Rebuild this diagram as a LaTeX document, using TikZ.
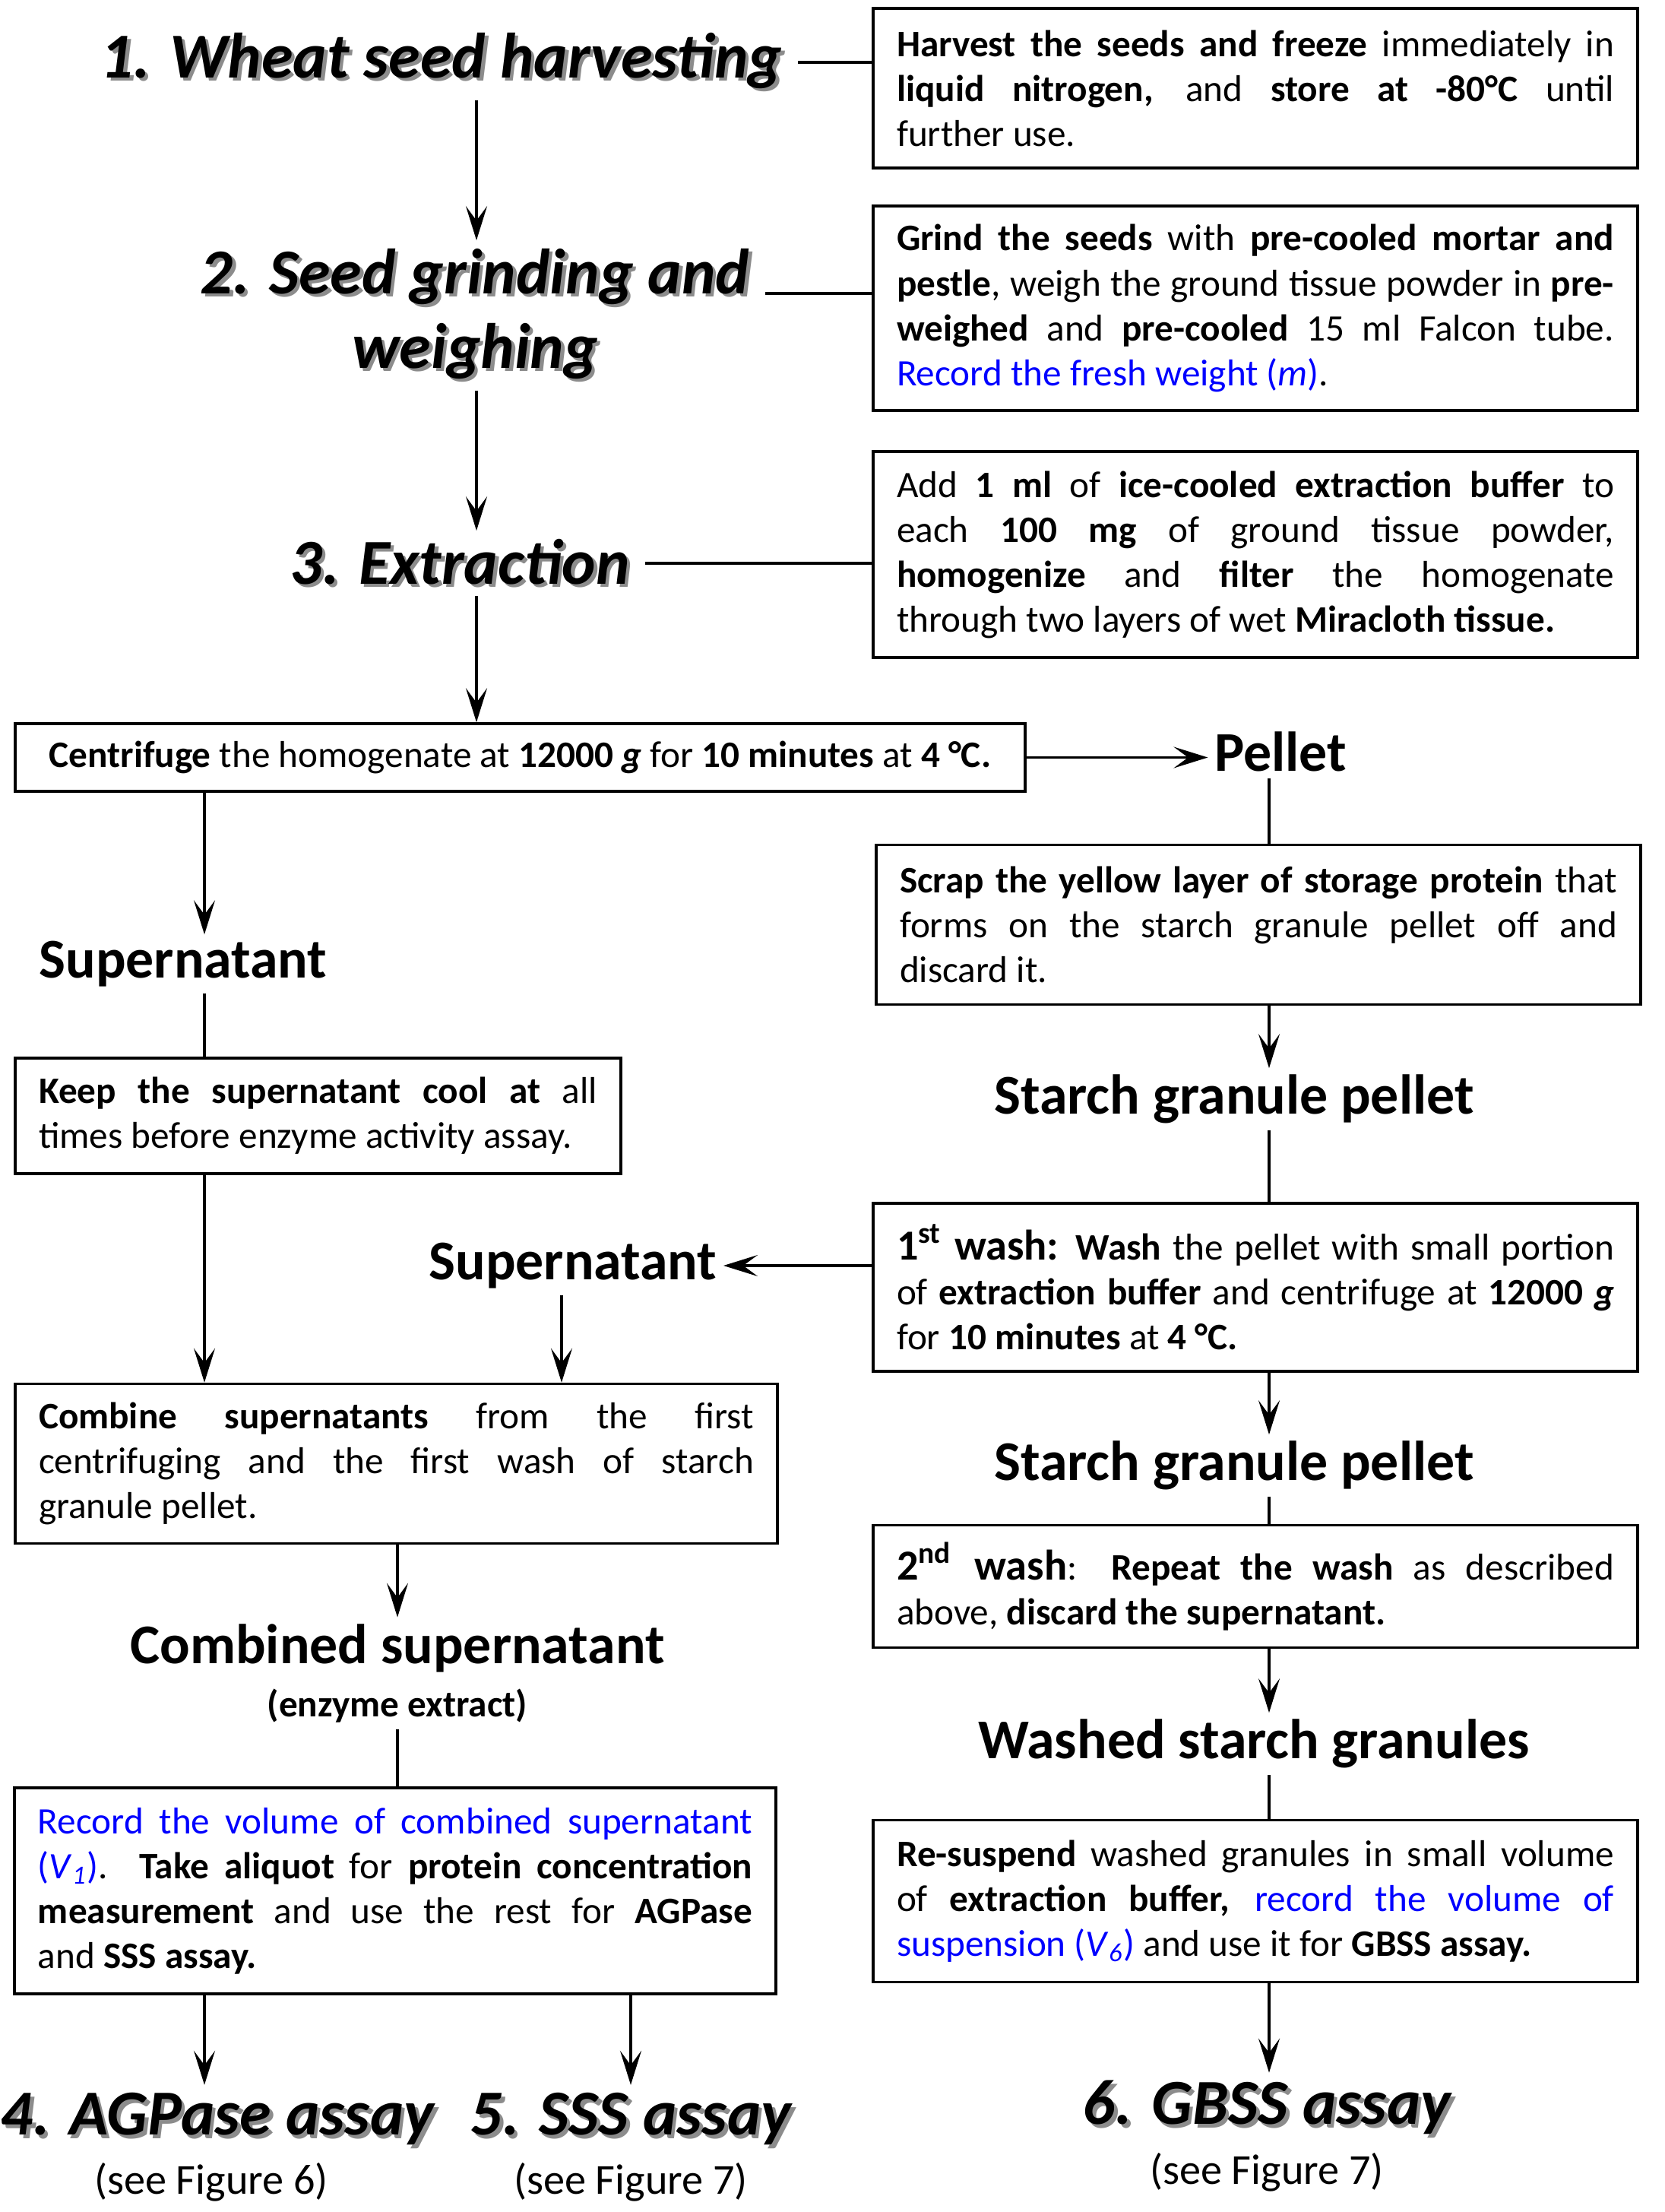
\documentclass[tikz,border=0pt]{standalone}
\usepackage{fontspec}
\setmainfont{Carlito}
\usetikzlibrary{arrows.meta,calc,positioning}

\definecolor{recblue}{RGB}{0,0,255}
\newcommand{\shd}[1]{\makebox[0pt][l]{\hspace{0.45mm}\raisebox{-0.45mm}{\textcolor{black!45}{#1}}}#1}
\newcommand{\rec}[1]{\textcolor{recblue}{#1}}
\newcommand{\nobreaks}{\hyphenpenalty=10000 \exhyphenpenalty=10000 \tolerance=9999 }

\begin{document}
\begin{tikzpicture}[
	stepbox/.style={draw, line width=1pt, inner xsep=3.1mm, inner ysep=1mm, align=justify,
		font=\fontsize{14}{16.8}\selectfont, execute at begin node=\nobreaks},
	steptitle/.style={inner xsep=2mm, inner ysep=1mm, align=center, font=\fontsize{24}{28}\selectfont\bfseries\itshape},
	fraction/.style={inner sep=0.8mm, font=\fontsize{21}{25}\selectfont\bfseries},
	seefig/.style={inner sep=0.8mm, font=\fontsize{16}{19}\selectfont},
	link/.style={line width=0.9pt},
	arr/.style={link, -{Stealth[length=4.5mm, width=2.8mm, inset=1.9mm]}},
]
	\useasboundingbox (0mm,0mm) rectangle (219mm,-291mm);
	%\draw[color=gray,step=1mm, help lines,opacity=0.3] (0mm,-291mm) grid (219mm,0mm); %help grid
	\coordinate (mcol) at (62.7mm,0mm);
	\coordinate (lcol) at (26.9mm,0mm);
	\coordinate (rcol) at (167mm,0mm);

	% steps 1-3
	\node[steptitle] (wheat) at (58.1mm,-8.2mm) {\shd{1. Wheat seed harvesting}};
	\node[steptitle] (grind) at (62.5mm,-41.5mm) {\shd{2. Seed grinding and}\\\shd{weighing}};
	\node[steptitle] (extract) at (60.5mm,-74.1mm) {\shd{3. Extraction}};
	\node[stepbox, text width=94.4mm, minimum height=21mm] (harvest) at (165.2mm,-11.6mm)
		{\textbf{Harvest the seeds and freeze} immediately in\linebreak \textbf{liquid nitrogen,} and \textbf{store at -80°C} until\linebreak further use.};
	\node[stepbox, text width=94.4mm, minimum height=26.9mm] (grindbox) at (165.2mm,-40.55mm)
		{\textbf{Grind the seeds} with \textbf{pre-cooled mortar and}\linebreak \textbf{pestle}, weigh the ground tissue powder in \textbf{pre-}\linebreak \textbf{weighed} and \textbf{pre-cooled} 15 ml Falcon tube.\linebreak \rec{Record the fresh weight (\textit{m})}.};
	\node[stepbox, text width=94.4mm, minimum height=27.1mm] (extractbox) at (165.2mm,-72.95mm)
		{Add \textbf{1 ml} of \textbf{ice-cooled extraction buffer} to\linebreak each \textbf{100 mg} of ground tissue powder,\linebreak \textbf{homogenize} and \textbf{filter} the homogenate\linebreak through two layers of wet \textbf{Miracloth tissue.}};
	\node[stepbox, align=center, minimum width=132.9mm, minimum height=8.9mm] (centrifuge) at (68.45mm,-99.65mm)
		{\textbf{Centrifuge} the homogenate at \textbf{12000 \textit{g}} for \textbf{10 minutes} at \textbf{4 °C.}};

	% pellet side
	\node[fraction] (pellet) at (168.5mm,-98.9mm) {Pellet};
	\node[stepbox, text width=94.4mm, minimum height=21mm] (scrap) at (165.6mm,-121.65mm)
		{\textbf{Scrap the yellow layer of storage protein} that\linebreak forms on the starch granule pellet off and\linebreak discard it.};
	\node[fraction] (granule1) at (162.4mm,-144.6mm) {Starch granule pellet};
	\node[stepbox, text width=94.4mm, minimum height=22.1mm] (wash1) at (165.2mm,-169.35mm)
		{{\fontsize{16}{16.8}\selectfont\textbf{1\textsuperscript{st} wash:}} \textbf{Wash} the pellet with small portion\linebreak of \textbf{extraction buffer} and centrifuge at \textbf{12000 \textit{g}}\linebreak for \textbf{10 minutes} at \textbf{4 °C.}};
	\node[fraction] (granule2) at (162.4mm,-192.8mm) {Starch granule pellet};
	\node[stepbox, text width=94.4mm, minimum height=16.1mm] (wash2) at (165.2mm,-208.7mm)
		{{\fontsize{16}{16.8}\selectfont\textbf{2\textsuperscript{nd} wash}}: \textbf{Repeat the wash} as described\linebreak above, \textbf{discard the supernatant.}};
	\node[fraction] (washed) at (165mm,-229.4mm) {Washed starch granules};
	\node[stepbox, text width=94.4mm, minimum height=21.3mm] (resuspend) at (165.2mm,-250.1mm)
		{\textbf{Re-suspend} washed granules in small volume\linebreak of \textbf{extraction buffer,} \rec{record the volume of}\linebreak \rec{suspension (\textit{V}\textsubscript{\textit{6}})} and use it for \textbf{GBSS assay.}};
	\node[steptitle] (gbss) at (166.7mm,-277.5mm) {\shd{6. GBSS assay}};
	\node[seefig] (gbssfig) at (166.7mm,-285.8mm) {(see Figure 7)};

	% supernatant side
	\node[fraction] (super1) at (24.1mm,-126.8mm) {Supernatant};
	\node[stepbox, text width=73.5mm, minimum height=15.2mm] (keep) at (41.85mm,-146.8mm)
		{\textbf{Keep the supernatant cool at} all\linebreak times before enzyme activity assay.};
	\node[fraction] (super2) at (75.4mm,-166.5mm) {Supernatant};
	\node[stepbox, text width=94.1mm, minimum height=21mm] (combine) at (52.15mm,-192.55mm)
		{\textbf{Combine supernatants} from the first\linebreak centrifuging and the first wash of starch\linebreak granule pellet.};
	\node[fraction] (combined) at (52.3mm,-216.8mm) {Combined supernatant};
	\node[inner sep=0.8mm, font=\fontsize{14}{16.8}\selectfont\bfseries] (enzyme) at (52.3mm,-224.4mm) {(enzyme extract)};
	\node[stepbox, text width=94mm, minimum height=27.1mm] (record) at (52mm,-248.75mm)
		{\rec{Record the volume of combined supernatant}\linebreak \rec{(\textit{V}\textsubscript{\textit{1}})}. \textbf{Take aliquot} for \textbf{protein concentration}\linebreak \textbf{measurement} and use the rest for \textbf{AGPase}\linebreak and \textbf{SSS assay.}};
	\node[steptitle] (agpase) at (28.6mm,-279mm) {\shd{4. AGPase assay}};
	\node[seefig] (agpasefig) at (27.8mm,-287.1mm) {(see Figure 6)};
	\node[steptitle] (sss) at (83mm,-279mm) {\shd{5. SSS assay}};
	\node[seefig] (sssfig) at (83mm,-287.1mm) {(see Figure 7)};

	% connectors
	\draw[link] (wheat.east) -- (wheat.east -| harvest.west);
	\draw[link] ([yshift=2.9mm]grind.east) -- ([yshift=2.9mm]grind.east -| grindbox.west);
	\draw[link] (extract.east) -- (extract.east -| extractbox.west);
	\draw[arr] (wheat.south -| mcol) -- (grind.north -| mcol);
	\draw[arr] (grind.south -| mcol) -- (extract.north -| mcol);
	\draw[arr] (extract.south -| mcol) -- (centrifuge.north -| mcol);
	\draw[arr] (centrifuge.east) -- (centrifuge.east -| pellet.west);
	\draw[link] (pellet.south -| rcol) -- (scrap.north -| rcol);
	\draw[arr] (scrap.south -| rcol) -- (granule1.north -| rcol);
	\draw[link] (granule1.south -| rcol) -- (wash1.north -| rcol);
	\draw[arr] (wash1.west |- super2.east) -- (super2.east);
	\draw[arr] (wash1.south -| rcol) -- (granule2.north -| rcol);
	\draw[link] (granule2.south -| rcol) -- (wash2.north -| rcol);
	\draw[arr] (wash2.south -| rcol) -- (washed.north -| rcol);
	\draw[link] (washed.south -| rcol) -- (resuspend.north -| rcol);
	\draw[arr] (resuspend.south -| rcol) -- (gbss.north -| rcol);
	\draw[arr] (centrifuge.south -| lcol) -- (super1.north -| lcol);
	\draw[link] (super1.south -| lcol) -- (keep.north -| lcol);
	\draw[arr] (keep.south -| lcol) -- (combine.north -| lcol);
	\draw[arr] ([xshift=-1.5mm]super2.south) -- ([xshift=-1.5mm]super2.south |- combine.north);
	\draw[arr] (combine.south -| combined.north) -- (combined.north);
	\draw[link] (enzyme.south) -- (enzyme.south |- record.north);
	\draw[arr] (record.south -| lcol) -- (agpase.north -| lcol);
	\draw[arr] (record.south -| sss.north) -- (sss.north);
\end{tikzpicture}
\end{document}
